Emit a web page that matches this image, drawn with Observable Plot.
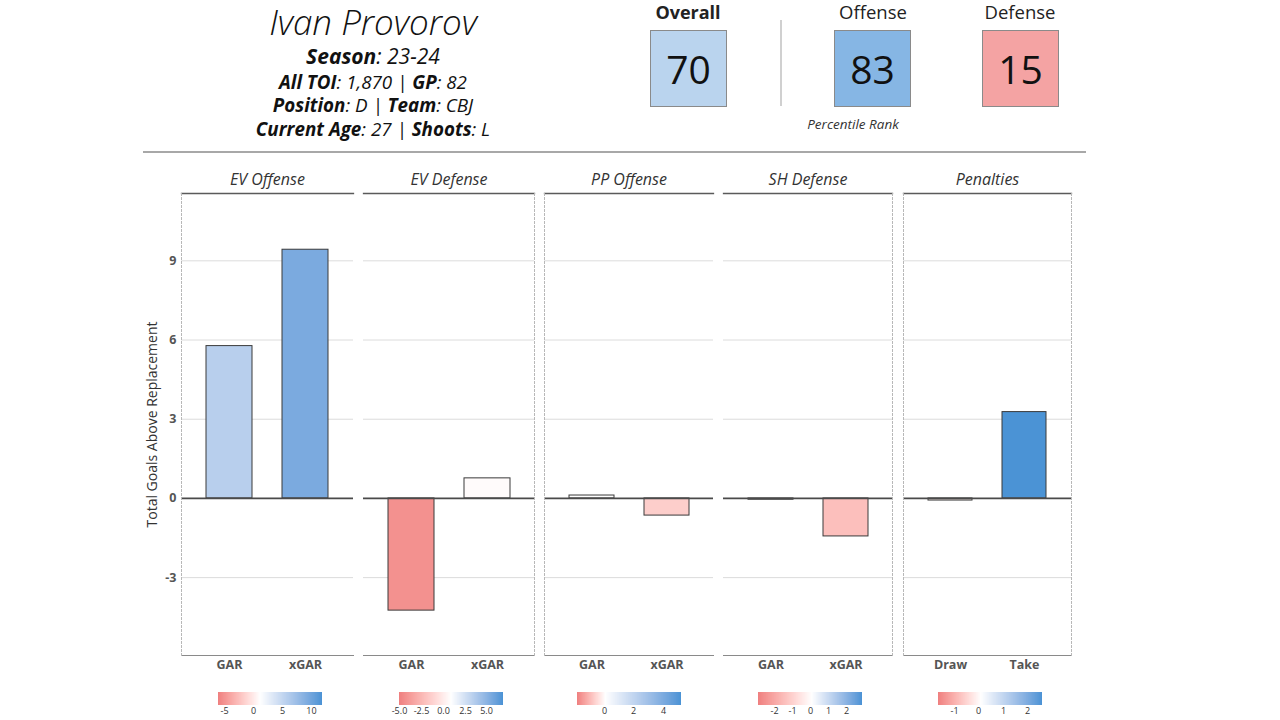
<!DOCTYPE html>
<html><head><meta charset="utf-8">
<script src="https://cdn.jsdelivr.net/npm/d3@7"></script>
<script src="https://cdn.jsdelivr.net/npm/@observablehq/plot@0.6"></script>
<style>
body{margin:0;background:#fff;font-family:"Open Sans",sans-serif;color:#111;}
#root{position:relative;width:1280px;height:720px;overflow:hidden;background:#fff;}
.abs{position:absolute;}
.info{position:absolute;left:143px;width:460px;text-align:center;font-size:18.8px;line-height:22px;font-style:italic;color:#111;white-space:nowrap;}
.info b{font-weight:700;}
.rlab{position:absolute;width:120px;text-align:center;font-size:18.5px;line-height:22px;color:#222;}
.box{position:absolute;width:77px;height:77px;box-sizing:border-box;border:1px solid #8a8a8a;display:flex;align-items:center;justify-content:center;font-size:39px;color:#111;}
</style></head><body><div id="root"></div>
<script>
// ---- data ----
const playerName = "Ivan Provorov";
const infoLabels = [["Season"], ["All TOI", "GP"], ["Position", "Team"], ["Current Age", "Shoots"]];
const infoValues = [["23-24"], ["1,870", "82"], ["D", "CBJ"], ["27", "L"]];
const rankLabels = ["Overall", "Offense", "Defense"];
const rankValues = [70, 83, 15];
const panelNames = ["EV Offense", "EV Defense", "PP Offense", "SH Defense", "Penalties"];
const metricLabels = [["GAR", "xGAR"], ["GAR", "xGAR"], ["GAR", "xGAR"], ["GAR", "xGAR"], ["Draw", "Take"]];
const firstValues = [5.77, -4.25, 0.11, -0.05, -0.08];
const secondValues = [9.42, 0.76, -0.65, -1.44, 3.27];
const legendDomains = [[-6.0, 11.8], [-5.0, 6.9], [-1.8, 5.2], [-2.9, 2.9], [-1.67, 2.63]];
const legendMids = [1.2, 0.95, 0.1, 0.1, 0.1];
const legendTicks = [[-5, 0, 5, 10], [-5, -2.5, 0, 2.5, 5], [0, 2, 4], [-2, -1, 0, 1, 2], [-1, 0, 1, 2]];
const legendDecimals = [0, 1, 0, 0, 0];
const yTicks = [-3, 0, 3, 6, 9];
const yDomain = [-5.95, 11.55];
const yLabel = "Total Goals Above Replacement";
const captionText = "Percentile Rank";

// ---- style / layout ----
const lowColor = "#ef8080", midColor = "#ffffff", highColor = "#4b93d5";
const boxColors = ["#bad4ee", "#86b6e4", "#f4a3a3"];
const panelLeft = [181, 363, 544, 723, 903];
const panelRight = [353, 534, 713, 892, 1071];
const dotLeft = [true, false, true, false, true];
const dotRight = [false, true, false, true, true];
const rampCenter = [270, 451, 629, 810, 990];

const root = document.getElementById("root");
function add(html) { const d = document.createElement("div"); d.innerHTML = html; const el = d.firstElementChild; root.appendChild(el); return el; }

// header left
add(`<div class="abs" style="left:143px;top:4px;width:460px;text-align:center;font-size:35px;line-height:36px;font-style:italic;font-weight:300;color:#111">${playerName}</div>`);
const lineCenters = [56, 82, 105, 129];
infoLabels.forEach((labs, i) => {
  const parts = labs.map((l, j) => `<b>${l}</b>: ${infoValues[i][j]}`).join(" | ");
  add(`<div class="info" style="top:${lineCenters[i] - 11}px;${i === 0 ? "font-size:21px;" : ""}">${parts}</div>`);
});

// header right
const rankCenters = [688, 873, 1020];
const boxLefts = [650, 834, 982];
rankLabels.forEach((l, i) => {
  add(`<div class="rlab" style="left:${rankCenters[i] - 60}px;top:1px;${i === 0 ? "font-weight:700;font-size:18px;" : ""}">${l}</div>`);
  add(`<div class="box" style="left:${boxLefts[i]}px;top:30px;background:${boxColors[i]}">${rankValues[i]}</div>`);
});
add(`<div class="abs" style="left:780px;top:20px;width:2px;height:86px;background:#d0d0d0"></div>`);
add(`<div class="abs" style="left:773px;top:115px;width:160px;text-align:center;font-size:13.5px;font-style:italic;color:#333">${captionText}</div>`);
add(`<div class="abs" style="left:143px;top:151px;width:943px;height:1.5px;background:#a8a8a8"></div>`);

function makeInterp([lo, hi], mid) {
  const z = (mid - lo) / (hi - lo);
  const neg = d3.interpolateLab(lowColor, midColor), pos = d3.interpolateLab(midColor, highColor);
  return t => t < z ? neg(t / z) : pos((t - z) / (1 - z));
}
function makeFmt(n) { return d => (d < 0 ? "-" : "") + Math.abs(d).toFixed(n); }

const svgTop = 160, mTop = 33, mBottom = 20, innerH = 462;
panelNames.forEach((name, i) => {
  const data = metricLabels[i].map((m, j) => ({metric: m, value: j === 0 ? firstValues[i] : secondValues[i]}));
  const first = i === 0;
  const ml = first ? 40 : 0;
  const w = panelRight[i] - panelLeft[i];
  const colorOpts = {type: "linear", domain: legendDomains[i], interpolate: makeInterp(legendDomains[i], legendMids[i]), clamp: true};
  const marks = [
    Plot.gridY(yTicks.filter(d => d !== 0), {stroke: "#dcdcdc", strokeOpacity: 1}),
    Plot.barY(data, {x: "metric", y: "value", fill: "value", stroke: "#3a3a3a", strokeWidth: 1}),
    Plot.ruleY([0], {stroke: "#4a4a4a", strokeWidth: 1.6}),
    Plot.frame({anchor: "top", stroke: "#5a5a5a", strokeWidth: 1.3}),
    Plot.frame({anchor: "bottom", stroke: "#8a8a8a", strokeWidth: 1}),
    Plot.axisX({tickSize: 0, tickPadding: 5, fontWeight: "bold", fill: "#555", fontSize: 12.5, label: null}),
    Plot.text([name], {text: d => d, frameAnchor: "top", lineAnchor: "middle", dy: -14, fontStyle: "italic", fontSize: 16, fill: "#333"})
  ];
  if (dotLeft[i]) marks.push(Plot.frame({anchor: "left", stroke: "#b8b8b8", strokeDasharray: "2,2"}));
  if (dotRight[i]) marks.push(Plot.frame({anchor: "right", stroke: "#b8b8b8", strokeDasharray: "2,2"}));
  if (first) {
    marks.push(Plot.axisY({ticks: yTicks, tickFormat: makeFmt(0), tickSize: 0, tickPadding: 5, fontWeight: "bold", fill: "#555", fontSize: 12.5, label: null}));
    marks.push(Plot.text([yLabel], {text: d => d, frameAnchor: "left", textAnchor: "middle", lineAnchor: "middle", rotate: -90, dx: -29, fontSize: 14, fill: "#333"}));
  }
  const chart = Plot.plot({
    width: w + ml, height: innerH + mTop + mBottom,
    marginLeft: ml, marginRight: 0, marginTop: mTop, marginBottom: mBottom,
    x: {domain: metricLabels[i], paddingInner: 0.4, paddingOuter: 0.32, axis: null},
    y: {domain: yDomain, axis: null},
    color: colorOpts,
    style: {fontFamily: "Open Sans", fontSize: "12px", background: "transparent", overflow: "visible"},
    marks
  });
  chart.style.position = "absolute";
  chart.style.left = (panelLeft[i] - ml) + "px";
  chart.style.top = svgTop + "px";
  root.appendChild(chart);

  const leg = Plot.legend({
    color: colorOpts, width: 128, marginLeft: 12, marginRight: 12, height: 30, marginTop: 0, marginBottom: 17,
    tickSize: 0, ticks: legendTicks[i], tickFormat: makeFmt(legendDecimals[i]), label: null,
    style: {fontFamily: "Open Sans", fontSize: "9px", color: "#333", background: "transparent", overflow: "visible"}
  });
  leg.querySelectorAll(".tick line").forEach(l => l.remove());
  leg.style.position = "absolute";
  leg.style.left = (rampCenter[i] - 64) + "px";
  leg.style.top = "692px";
  root.appendChild(leg);
});
</script></body></html>
